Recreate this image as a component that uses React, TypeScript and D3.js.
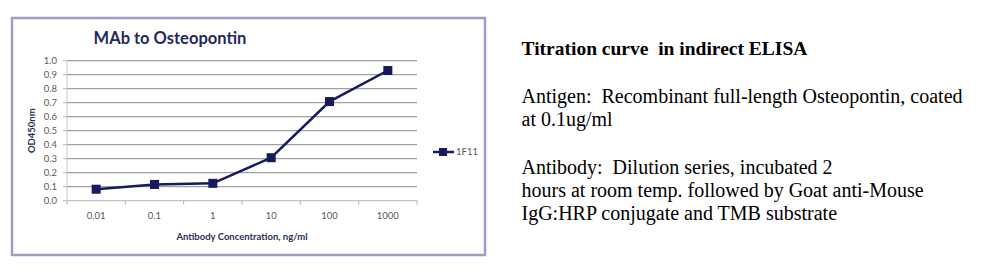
import React from "react";
import * as d3 from "d3";

const categories = ["0.01", "0.1", "1", "10", "100", "1000"];
const od450 = [0.082, 0.116, 0.124, 0.307, 0.708, 0.930];
const yTicks = [0, 0.1, 0.2, 0.3, 0.4, 0.5, 0.6, 0.7, 0.8, 0.9, 1.0];
const seriesName = "1F11";
const chartTitle = "MAb to Osteopontin";
const xTitle = "Antibody Concentration, ng/ml";
const yTitle = "OD450nm";
const notes = [
  { text: "Titration curve  in indirect ELISA", bold: true, gapBefore: 0 },
  { text: "Antigen:  Recombinant full-length Osteopontin, coated", bold: false, gapBefore: 1 },
  { text: "at 0.1ug/ml", bold: false, gapBefore: 0 },
  { text: "Antibody:  Dilution series, incubated 2", bold: false, gapBefore: 1 },
  { text: "hours at room temp. followed by Goat anti-Mouse", bold: false, gapBefore: 0 },
  { text: "IgG:HRP conjugate and TMB substrate", bold: false, gapBefore: 0 },
];

const W = 988;
const H = 279;
const plot = { left: 67, right: 417, top: 60.7, bottom: 200.7 };
const navy = "#141a5c";
const font = "Lato, 'Open Sans', sans-serif";

export default function App() {
  const x = d3.scaleBand<string>().domain(categories).range([plot.left, plot.right]);
  const y = d3.scaleLinear().domain([0, 1]).range([plot.bottom, plot.top]);
  const cx = (c: string) => (x(c) as number) + x.bandwidth() / 2;
  const line = d3
    .line<number>()
    .x((_, i) => cx(categories[i]))
    .y((d) => y(d));
  const bounds = categories.map((c) => x(c) as number).concat([plot.right]);

  let lineY = 55;
  const noteYs: number[] = [];
  notes.forEach((n, i) => {
    if (i > 0) lineY += 23.2 + (n.gapBefore ? 24.5 : 0);
    noteYs.push(lineY);
  });

  return (
    <svg
      width={W}
      height={H}
      style={{ position: "absolute", left: 0, top: 0, background: "#fff" }}
    >
      <rect x={12} y={18} width={473} height={237} fill="#fff" stroke="#9c9ec8" strokeWidth={2.5} />
      <text x={170} y={44} textAnchor="middle" fontFamily={font} fontWeight="bold" fontSize={16.5} fill="#1f2a5a">
        {chartTitle}
      </text>
      {yTicks.map((t) => (
        <g key={t}>
          <line x1={plot.left} x2={plot.right} y1={y(t)} y2={y(t)} stroke={t === 0 ? "#b5b5b5" : "#8a8a8a"} strokeWidth={1} />
          <line x1={plot.left - 4} x2={plot.left} y1={y(t)} y2={y(t)} stroke="#b5b5b5" />
          <text x={plot.left - 10} y={y(t)} dy="0.35em" textAnchor="end" fontFamily={font} fontSize={9.5} fill="#5a5a5a">
            {t.toFixed(1)}
          </text>
        </g>
      ))}
      <line x1={plot.left} x2={plot.left} y1={plot.top} y2={plot.bottom} stroke="#c8c8c8" />
      {bounds.map((b, i) => (
        <line key={i} x1={b} x2={b} y1={plot.bottom} y2={plot.bottom + 4} stroke="#b5b5b5" />
      ))}
      {categories.map((c) => (
        <text key={c} x={cx(c)} y={216} dy="0.35em" textAnchor="middle" fontFamily={font} fontSize={9.5} fill="#5a5a5a">
          {c}
        </text>
      ))}
      <text x={242} y={237} dy="0.35em" textAnchor="middle" fontFamily={font} fontWeight="bold" fontSize={9.5} fill="#2a2f55">
        {xTitle}
      </text>
      <text
        transform={`translate(31.5,${(plot.top + plot.bottom) / 2}) rotate(-90)`}
        dy="0.35em"
        textAnchor="middle"
        fontFamily={font}
        fontWeight="bold"
        fontSize={9.5}
        fill="#2a2f55"
      >
        {yTitle}
      </text>
      <path d={line(od450) || ""} fill="none" stroke={navy} strokeWidth={2.5} />
      {od450.map((v, i) => (
        <rect key={i} x={cx(categories[i]) - 4.5} y={y(v) - 4.5} width={9} height={9} fill={navy} />
      ))}
      <line x1={433} x2={454} y1={152} y2={152} stroke={navy} strokeWidth={2.5} />
      <rect x={439} y={148} width={8} height={8} fill={navy} />
      <text x={456} y={152} dy="0.35em" fontFamily={font} fontSize={9.5} fill="#5a5a5a">
        {seriesName}
      </text>
      {notes.map((n, i) => (
        <text
          key={i}
          x={521.5}
          y={noteYs[i]}
          fontFamily="'Liberation Serif', 'Times New Roman', serif"
          fontSize={n.bold ? 19.5 : 20}
          fontWeight={n.bold ? "bold" : "normal"}
          fill="#000"
          style={{ whiteSpace: "pre" }}
        >
          {n.text}
        </text>
      ))}
    </svg>
  );
}
